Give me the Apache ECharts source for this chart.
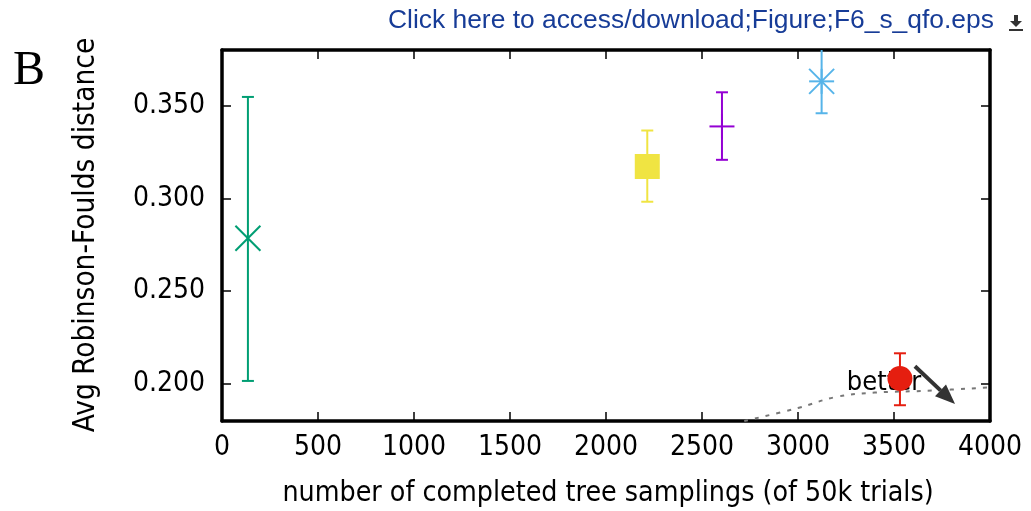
<!DOCTYPE html>
<html>
<head>
<meta charset="utf-8">
<script src="https://cdn.jsdelivr.net/npm/echarts@6/dist/echarts.min.js"></script>
<style>
  html, body { margin: 0; padding: 0; background: #fff; }
  #chart { width: 1031px; height: 511px; }
</style>
</head>
<body>
<div id="chart"></div>
<script>
// Completed tree samplings vs. average Robinson-Foulds distance, one point per method
const samplings   = [135, 2215, 2604, 3123, 3531];
const avgRF       = [0.2785, 0.3172, 0.3388, 0.3631, 0.2029];
const rfLow       = [0.2016, 0.2982, 0.3208, 0.3459, 0.1885];
const rfHigh      = [0.3547, 0.3366, 0.3572, 0.3900, 0.2165];

// Axis ticks
const xTicks = [0, 500, 1000, 1500, 2000, 2500, 3000, 3500, 4000];
const yTicks = [0.200, 0.250, 0.300, 0.350];

// Dotted trade-off curve
const curveX = [2720, 3000, 3200, 3400, 3700, 4000];
const curveY = [0.1800, 0.1870, 0.1930, 0.1953, 0.1964, 0.1982];

// "better" annotation: label position and arrow start/end
const betterLabel = [3448, 0.2003];
const arrowFrom   = [3609, 0.2095];
const arrowTo     = [3818, 0.1891];

// Marker appearance per point
const markerStyle = [
  { shape: 'cross',  color: '#009e73' },
  { shape: 'square', color: '#f0e442' },
  { shape: 'plus',   color: '#9400d3' },
  { shape: 'star',   color: '#56b4e9' },
  { shape: 'circle', color: '#e51e10' }
];

const FONT = '"DejaVu Sans Condensed", "DejaVu Sans", sans-serif';

const pointData = samplings.map((x, i) => [x, avgRF[i], rfLow[i], rfHigh[i]]);

function renderPoint(params, api) {
  const i = params.dataIndex;
  const st = markerStyle[i];
  const cs = params.coordSys;
  const top = cs.y, bottom = cs.y + cs.height;
  const p  = api.coord([api.value(0), api.value(1)]);
  const pl = api.coord([api.value(0), api.value(2)]);
  const ph = api.coord([api.value(0), api.value(3)]);
  const lw = 2;
  const cap = 6;
  const hiY = Math.max(ph[1], top);
  const loY = Math.min(pl[1], bottom);
  const line = (x1, y1, x2, y2) => ({
    type: 'line',
    shape: { x1, y1, x2, y2 },
    style: { stroke: st.color, lineWidth: lw }
  });
  const children = [line(p[0], hiY, p[0], loY)];
  if (ph[1] >= top) children.push(line(p[0] - cap, ph[1], p[0] + cap, ph[1]));
  if (pl[1] <= bottom) children.push(line(p[0] - cap, pl[1], p[0] + cap, pl[1]));
  const h = 12.5;
  if (st.shape === 'cross' || st.shape === 'star') {
    children.push(line(p[0] - h, p[1] - h, p[0] + h, p[1] + h));
    children.push(line(p[0] - h, p[1] + h, p[0] + h, p[1] - h));
  }
  if (st.shape === 'plus' || st.shape === 'star') {
    children.push(line(p[0] - h, p[1], p[0] + h, p[1]));
    children.push(line(p[0], p[1] - h, p[0], p[1] + h));
  }
  if (st.shape === 'square') {
    children.push({ type: 'rect', shape: { x: p[0] - h, y: p[1] - h, width: 2 * h, height: 2 * h },
      style: { fill: st.color } });
  }
  if (st.shape === 'circle') {
    children.push({ type: 'circle', shape: { cx: p[0], cy: p[1], r: h },
      style: { fill: st.color } });
  }
  return { type: 'group', children };
}

function renderAnnotation(params, api) {
  const t = api.coord(betterLabel);
  const a = api.coord(arrowFrom);
  const b = api.coord(arrowTo);
  const ang = Math.atan2(b[1] - a[1], b[0] - a[0]);
  const headLen = 20, headW = 8;
  const bx = b[0] - headLen * Math.cos(ang), by = b[1] - headLen * Math.sin(ang);
  const nx = -Math.sin(ang), ny = Math.cos(ang);
  return {
    type: 'group',
    children: [
      { type: 'text', z2: 1, style: { text: 'better', x: t[0], y: t[1], align: 'center', verticalAlign: 'middle',
        font: '27px ' + FONT, fill: '#000' } },
      { type: 'line', shape: { x1: a[0], y1: a[1], x2: bx, y2: by },
        style: { stroke: '#333', lineWidth: 4 } },
      { type: 'polygon', shape: { points: [[b[0], b[1]], [bx + nx * headW, by + ny * headW], [bx - nx * headW, by - ny * headW]] },
        style: { fill: '#333' } }
    ]
  };
}

const chart = echarts.init(document.getElementById('chart'), null, { renderer: 'canvas' });

const axisCommon = {
  type: 'value',
  axisLine: { show: true, onZero: false, lineStyle: { color: '#000', width: 3.5 } },
  axisTick: { show: true, inside: true, length: 9, lineStyle: { color: '#000', width: 1.5 } },
  splitLine: { show: false }
};

chart.setOption({
  animation: false,
  backgroundColor: '#fff',
  grid: { left: 222, right: 41, top: 50, bottom: 90, containLabel: false },
  xAxis: [
    Object.assign({}, axisCommon, {
      position: 'bottom', min: 0, max: 4000, interval: 500,
      axisLabel: { show: true, margin: 13, fontSize: 28, fontFamily: FONT, color: '#000',
        customValues: xTicks, formatter: v => String(v) }
    }),
    Object.assign({}, axisCommon, {
      position: 'top', min: 0, max: 4000, interval: 500,
      axisLabel: { show: false }
    })
  ],
  yAxis: [
    Object.assign({}, axisCommon, {
      position: 'left', min: 0.18, max: 0.38,
      axisTick: Object.assign({}, axisCommon.axisTick, { customValues: yTicks }),
      axisLabel: { show: true, margin: 17, fontSize: 28, fontFamily: FONT, color: '#000',
        customValues: yTicks, formatter: v => v.toFixed(3) }
    }),
    Object.assign({}, axisCommon, {
      position: 'right', min: 0.18, max: 0.38,
      axisTick: Object.assign({}, axisCommon.axisTick, { customValues: yTicks }),
      axisLabel: { show: false }
    })
  ],
  series: [
    {
      type: 'line',
      data: curveX.map((x, i) => [x, curveY[i]]),
      smooth: 0.4,
      showSymbol: false,
      clip: true,
      lineStyle: { color: '#777', width: 2, type: [4, 7] },
      z: 1
    },
    {
      type: 'custom',
      data: [0],
      renderItem: renderAnnotation,
      clip: true,
      z: 2
    },
    {
      type: 'custom',
      data: pointData,
      renderItem: renderPoint,
      z: 3
    }
  ],
  graphic: [
    { type: 'text', left: 388, top: 8, style: {
        text: 'Click here to access/download;Figure;F6_s_qfo.eps',
        font: '26.4px "Liberation Sans", Arial, sans-serif', fill: '#173c97' } },
    { type: 'group', left: 1009, top: 15, children: [
        { type: 'polygon', shape: { points: [[1, 6], [13, 6], [7, 12]] }, style: { fill: '#333' } },
        { type: 'rect', shape: { x: 5, y: 0, width: 4, height: 7 }, style: { fill: '#333' } },
        { type: 'rect', shape: { x: 0, y: 14, width: 14, height: 2 }, style: { fill: '#333' } }
      ] },
    { type: 'text', left: 13, top: 47, style: {
        text: 'B', font: '48px "Liberation Serif", "DejaVu Serif", serif', fill: '#000' } },
    { type: 'text', x: 86, y: 235, rotation: Math.PI / 2, style: {
        text: 'Avg Robinson-Foulds distance', font: '29.5px ' + FONT, fill: '#000',
        align: 'center', verticalAlign: 'middle' } },
    { type: 'text', x: 608, y: 494, style: {
        text: 'number of completed tree samplings (of 50k trials)', font: '28.3px ' + FONT, fill: '#000',
        align: 'center', verticalAlign: 'middle' } }
  ]
});
</script>
</body>
</html>
